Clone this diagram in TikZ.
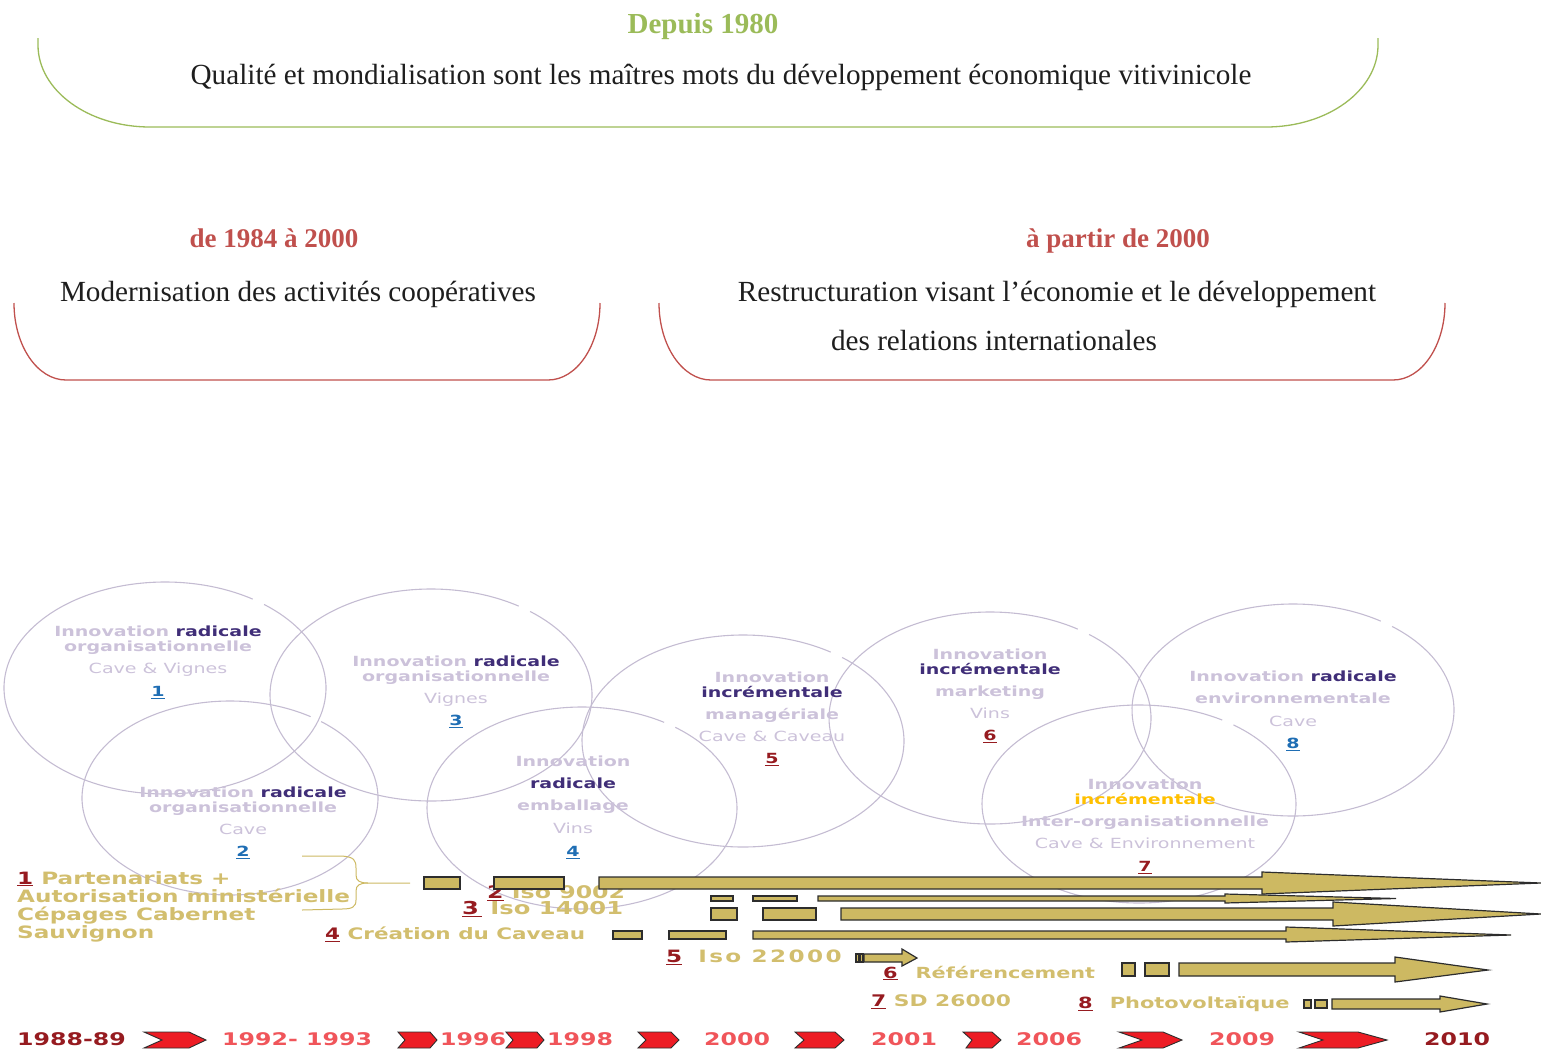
\documentclass[tikz,border=0pt]{standalone}
\usepackage{fontspec}
\setmainfont{Liberation Serif}
\newfontfamily\vfont{DejaVu Sans}[FakeStretch=1.36]
\usetikzlibrary{calc}
\usepackage{xcolor}
\definecolor{leafgreen}{RGB}{155,187,89}
\definecolor{brickred}{RGB}{192,80,77}
\definecolor{inkblack}{RGB}{30,30,30}
\definecolor{ringgray}{RGB}{196,188,210}
\definecolor{paleviolet}{RGB}{204,194,218}
\definecolor{deepviolet}{RGB}{64,46,120}
\definecolor{numblue}{RGB}{31,110,180}
\definecolor{wine}{RGB}{150,27,32}
\definecolor{amber}{RGB}{255,192,0}
\definecolor{tanfill}{RGB}{205,185,98}
\definecolor{tantext}{RGB}{210,190,110}
\definecolor{bardark}{RGB}{45,45,45}
\definecolor{chevred}{RGB}{237,28,36}
\definecolor{yearred}{RGB}{240,85,90}
\newcommand{\numb}[2]{\textcolor{#1}{\underline{#2}}}

\begin{document}
\begin{tikzpicture}[x=1pt, y=-1pt]
\tikzset{
  heading/.style={font=\bfseries\fontsize{27}{30}\selectfont, inner sep=0},
  body/.style={font=\fontsize{29.2}{34}\selectfont, text=inkblack, inner sep=0},
  ring/.style={draw=ringgray, line width=1.1pt},
  ringtext/.style={font=\vfont\bfseries\fontsize{14}{15}\selectfont, text=paleviolet, align=center, anchor=north, inner sep=0},
  bar/.style={draw=bardark, fill=tanfill, line width=1.2pt},
  chev/.style={draw=bardark, fill=chevred, line width=0.9pt},
  tanline/.style={draw=tanfill, line width=1pt},
  lbl/.style={font=\vfont\bfseries\fontsize{17.4}{18}\selectfont, text=tantext, anchor=west, inner sep=0},
  year/.style={font=\vfont\bfseries\fontsize{17.4}{19}\selectfont, text=yearred, anchor=west, inner sep=0}
}
\useasboundingbox (0,0) rectangle (1541,1052);

% periods
\node[heading, text=leafgreen, font=\bfseries\fontsize{29}{32}\selectfont] (depuis) at (703,27) {Depuis 1980};
\node[body] (qualite) at (721,77) {Qualité et mondialisation sont les maîtres mots du développement économique vitivinicole};
\draw[leafgreen, line width=1.3pt] (38,38) -- (38,45) arc[start angle=180, end angle=90, x radius=112, y radius=82]
  -- (1266,127) arc[start angle=90, end angle=0, x radius=112, y radius=82] -- (1378,38);

\node[heading, text=brickred] (p1984) at (274,238) {de 1984 à 2000};
\node[body] (modern) at (298,294) {Modernisation des activités coopératives};
\draw[brickred, line width=1.3pt] (14,303) arc[start angle=180, end angle=90, x radius=52, y radius=77]
  -- (548,380) arc[start angle=90, end angle=0, x radius=52, y radius=77];

\node[heading, text=brickred] (p2000) at (1118,241) {à partir de 2000};
\node[body] (restruct) at (1057,294) {Restructuration visant l’économie et le développement};
\node[body] (relations) at (994,341) {des relations internationales};
\draw[brickred, line width=1.3pt] (659,303) arc[start angle=180, end angle=90, x radius=52, y radius=77]
  -- (1393,380) arc[start angle=90, end angle=0, x radius=52, y radius=77];

% innovation circles
\draw[ring] ([shift={(-52:161 and 106)}]165,688) arc[start angle=-52, end angle=303, x radius=161, y radius=106];
\draw[ring] ([shift={(-52:148 and 97)}]230,798) arc[start angle=-52, end angle=303, x radius=148, y radius=97];
\draw[ring] ([shift={(-52:161 and 106)}]431,695) arc[start angle=-52, end angle=303, x radius=161, y radius=106];
\draw[ring] ([shift={(-53:155 and 101)}]582,808) arc[start angle=-53, end angle=302, x radius=155, y radius=101];
\draw[ring] ([shift={(-52:161 and 106)}]743,741) arc[start angle=-52, end angle=303, x radius=161, y radius=106];
\draw[ring] ([shift={(-52:161 and 106)}]990,718) arc[start angle=-52, end angle=303, x radius=161, y radius=106];
\draw[ring] ([shift={(-53:157 and 99)}]1139,804) arc[start angle=-53, end angle=302, x radius=157, y radius=99];
\draw[ring] ([shift={(-52:161 and 106)}]1293,710) arc[start angle=-52, end angle=303, x radius=161, y radius=106];

\node[ringtext] (inno1) at (158,626) {Innovation \textcolor{deepviolet}{radicale}\\organisationnelle\\[7pt]{\mdseries Cave \& Vignes}\\[8pt]\numb{numblue}{1}};
\node[ringtext] (inno2) at (243,787) {Innovation \textcolor{deepviolet}{radicale}\\organisationnelle\\[7pt]{\mdseries Cave}\\[7pt]\numb{numblue}{2}};
\node[ringtext] (inno3) at (456,656) {Innovation \textcolor{deepviolet}{radicale}\\organisationnelle\\[7pt]{\mdseries Vignes}\\[7pt]\numb{numblue}{3}};
\node[ringtext] (inno4) at (573,756) {Innovation\\[7pt]\textcolor{deepviolet}{radicale}\\[7pt]emballage\\[8pt]{\mdseries Vins}\\[8pt]\numb{numblue}{4}};
\node[ringtext] (inno5) at (772,672) {Innovation\\\textcolor{deepviolet}{incrémentale}\\[7pt]managériale\\[7pt]{\mdseries Cave \& Caveau}\\[7pt]\numb{wine}{5}};
\node[ringtext] (inno6) at (990,649) {Innovation\\\textcolor{deepviolet}{incrémentale}\\[7pt]marketing\\[7pt]{\mdseries Vins}\\[7pt]\numb{wine}{6}};
\node[ringtext] (inno7) at (1145,779) {Innovation\\\textcolor{amber}{incrémentale}\\[7pt]Inter-organisationnelle\\[7pt]{\mdseries Cave \& Environnement}\\[8pt]\numb{wine}{7}};
\node[ringtext] (inno8) at (1293,671) {Innovation \textcolor{deepviolet}{radicale}\\[7pt]environnementale\\[8pt]{\mdseries Cave}\\[7pt]\numb{numblue}{8}};

% labels
\node[lbl, font=\vfont\bfseries\fontsize{17}{18}\selectfont, anchor=north west, align=left] (part) at (17,871) {\numb{wine}{1} Partenariats +\\Autorisation ministérielle\\Cépages Cabernet\\Sauvignon};
\draw[tanline] (302,856) -- (342,856) .. controls (354,857) and (356,860) .. (356,868) -- (356,875)
  .. controls (356,881) and (360,883) .. (368,883) -- (410,883);
\draw[tanline] (368,883) .. controls (360,883) and (356,885) .. (356,891) -- (356,900)
  .. controls (356,907) and (352,909) .. (342,909) -- (302,910);

\node[lbl] (iso9) at (487,893) {\numb{wine}{2} Iso 9002};
\node[lbl, font=\vfont\bfseries\fontsize{17.8}{18}\selectfont] (iso14) at (462,909) {\numb{wine}{3\,} Iso 14001};
\node[lbl, font=\vfont\bfseries\fontsize{15.8}{17}\selectfont] (caveau) at (325,934) {\numb{wine}{4} Création du Caveau};
\node[lbl, font=\vfont\bfseries\fontsize{17}{18}\selectfont] (iso22) at (666,957) {\numb{wine}{5}\hspace*{16pt}{\addfontfeature{LetterSpace=14}Iso 22000}};
\node[lbl, font=\vfont\bfseries\fontsize{15.3}{17}\selectfont] (refer) at (883,973) {\numb{wine}{6}\hspace*{18pt}Référencement};
\node[lbl, font=\vfont\bfseries\fontsize{16}{17}\selectfont] (sd) at (871,1002) {\numb{wine}{7} SD 26000};
\node[lbl, font=\vfont\bfseries\fontsize{15.4}{17}\selectfont] (photo) at (1078,1004) {\numb{wine}{8}\hspace*{17pt}Photovoltaïque};

% bars
\draw[bar] (424,877) rectangle (460,889);
\draw[bar] (494,877) rectangle (564,889);
\draw[bar] (599,877) -- (1262,877) -- (1262,872) -- (1541,883) -- (1262,894) -- (1262,889) -- (599,889) -- cycle;

\draw[bar] (711,896) rectangle (733,901);
\draw[bar] (753,896) rectangle (797,901);
\draw[bar] (818,896) -- (1225,896) -- (1225,894) -- (1396,898.5) -- (1225,903) -- (1225,901) -- (818,901) -- cycle;

\draw[bar] (711,908) rectangle (737,920);
\draw[bar] (763,908) rectangle (816,920);
\draw[bar] (841,908) -- (1333,908) -- (1333,902) -- (1541,914) -- (1333,926) -- (1333,920) -- (841,920) -- cycle;

\draw[bar] (613,931) rectangle (642,939);
\draw[bar] (669,931) rectangle (726,939);
\draw[bar] (753,931) -- (1286,931) -- (1286,927) -- (1511,935) -- (1286,942) -- (1286,939) -- (753,939) -- cycle;

\draw[bar] (856,954) rectangle (859,962);
\draw[bar] (860,954) rectangle (863,962);
\draw[bar] (864,954) -- (902,954) -- (902,949) -- (917,958) -- (902,966) -- (902,962) -- (864,962) -- cycle;

\draw[bar] (1122,963) rectangle (1135,976);
\draw[bar] (1145,963) rectangle (1169,976);
\draw[bar] (1179,963) -- (1395,963) -- (1395,957) -- (1488,970) -- (1395,982) -- (1395,976) -- (1179,976) -- cycle;

\draw[bar] (1304,1000) rectangle (1311,1008);
\draw[bar] (1315,1000) rectangle (1327,1008);
\draw[bar] (1332,999) -- (1440,999) -- (1440,996) -- (1487,1004) -- (1440,1012) -- (1440,1009) -- (1332,1009) -- cycle;

% timeline
\node[year, text=wine] (y88) at (17,1039) {1988-89};
\node[year] (y92) at (222,1039) {1992- 1993};
\node[year] (y96) at (440,1039) {1996};
\node[year] (y98) at (547,1039) {1998};
\node[year] (y00) at (704,1039) {2000};
\node[year] (y01) at (871,1039) {2001};
\node[year] (y06) at (1016,1039) {2006};
\node[year] (y09) at (1209,1039) {2009};
\node[year, text=wine] (y10) at (1424,1039) {2010};

\draw[chev] (144,1032) -- (189,1032) -- (206,1040) -- (189,1048) -- (144,1048) -- (162,1040) -- cycle;
\draw[chev] (398,1032) -- (430,1032) -- (437,1040) -- (430,1048) -- (398,1048) -- (405,1040) -- cycle;
\draw[chev] (506,1032) -- (537,1032) -- (544,1040) -- (537,1048) -- (506,1048) -- (513,1040) -- cycle;
\draw[chev] (638,1032) -- (671,1032) -- (679,1040) -- (671,1048) -- (638,1048) -- (646,1040) -- cycle;
\draw[chev] (795,1032) -- (835,1032) -- (844,1040) -- (835,1048) -- (795,1048) -- (804,1040) -- cycle;
\draw[chev] (963,1032) -- (992,1032) -- (1001,1040) -- (992,1048) -- (966,1048) -- (972,1040) -- cycle;
\draw[chev] (1119,1032) -- (1163,1032) -- (1182,1040) -- (1163,1048) -- (1119,1048) -- (1142,1040) -- cycle;
\draw[chev] (1299,1032) -- (1358,1032) -- (1387,1040) -- (1358,1048) -- (1299,1048) -- (1323,1040) -- cycle;
\end{tikzpicture}
\end{document}
